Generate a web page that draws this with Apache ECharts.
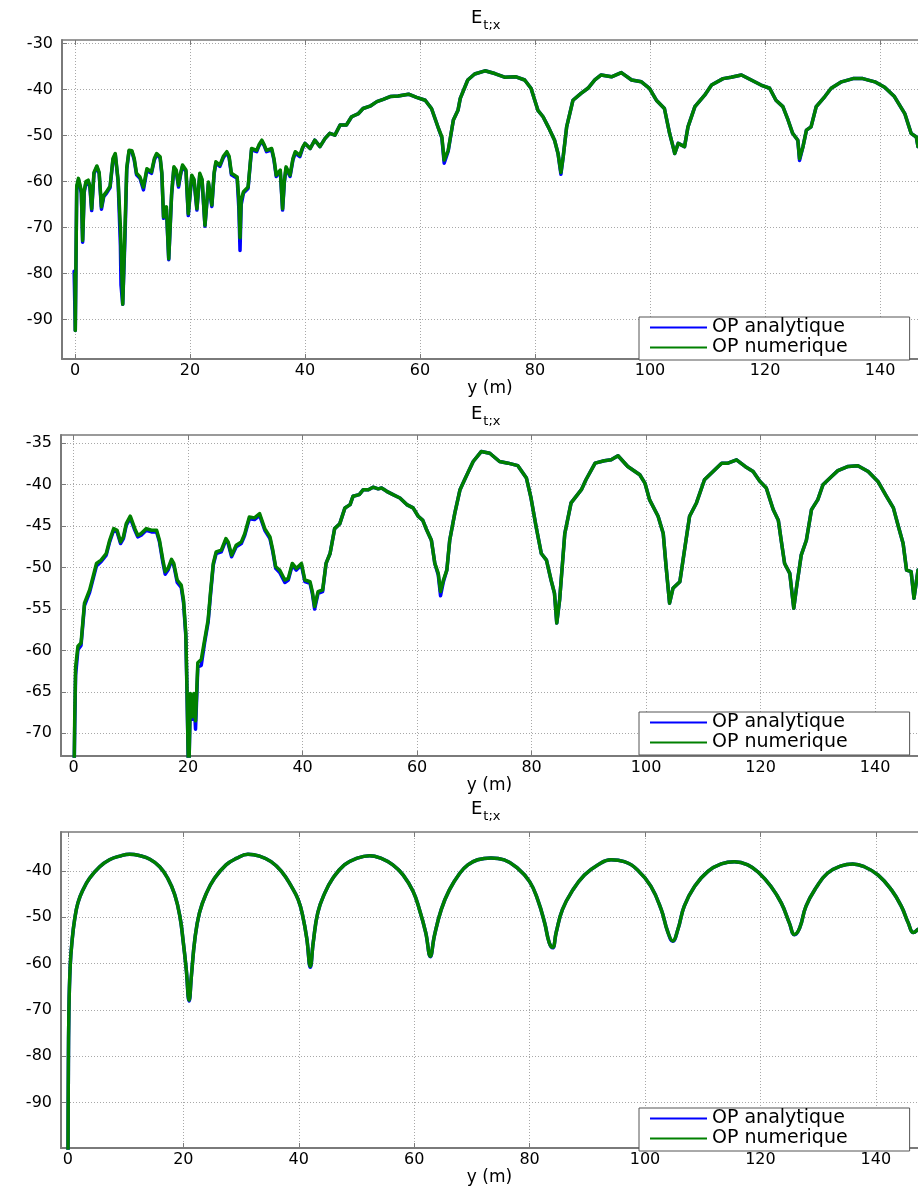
<!DOCTYPE html>
<html>
<head>
<meta charset="utf-8">
<script src="https://cdn.jsdelivr.net/npm/echarts@6/dist/echarts.min.js"></script>
<style>
html,body{margin:0;padding:0;background:#ffffff;}
#chart{width:918px;height:1187px;}
</style>
</head>
<body>
<div id="chart"></div>
<script>
// ---------------- data ----------------
const seriesNames = ['OP analytique', 'OP numerique'];
const titleText = 'E';
const titleSub = 't;x';
const xAxisName = 'y (m)';
const xTickLabels = [0, 20, 40, 60, 80, 100, 120, 140];
const yTickLabels1 = [-90, -80, -70, -60, -50, -40, -30];
const yTickLabels2 = [-70, -65, -60, -55, -50, -45, -40, -35];
const yTickLabels3 = [-90, -80, -70, -60, -50, -40];

// panel 1 : OP numerique
const p1Numerique = [[0,-80],[0.05,-92.4],[0.3,-61],[0.6,-59.3],[0.87,-59],[1.1,-62],[1.33,-72.8],[1.6,-62],[1.9,-60],[2.3,-59.7],[2.6,-61],[2.9,-65.9],[3.3,-58],[3.8,-56.6],[4.2,-58],[4.6,-65.5],[5.0,-63],[5.5,-62.2],[6.1,-61],[6.6,-55],[7.0,-53.9],[7.5,-59.7],[7.9,-70],[8.3,-86.7],[8.7,-70],[9.0,-57],[9.4,-53.2],[9.9,-53.3],[10.3,-55],[10.7,-58.2],[11.3,-59],[11.9,-61.2],[12.5,-57.2],[13.3,-57.9],[13.8,-55],[14.2,-53.9],[14.8,-54.6],[15.1,-58],[15.4,-67.7],[15.9,-65.5],[16.3,-76.8],[16.8,-62.6],[17.2,-56.8],[17.6,-57.5],[18.0,-60.8],[18.4,-58],[18.7,-56.4],[19.3,-57.5],[19.7,-67.0],[20.3,-58.6],[20.7,-59.5],[21.2,-65.9],[21.7,-58.2],[22.1,-59.5],[22.6,-69.5],[23.2,-60.1],[23.8,-65.1],[24.2,-58],[24.5,-55.7],[25.2,-56.4],[25.8,-54.5],[26.4,-53.5],[26.8,-54.5],[27.2,-58.2],[28.2,-59.0],[28.5,-64],[28.7,-72.2],[28.9,-64],[29.3,-62.2],[30.1,-61.2],[30.4,-57],[30.7,-52.8],[31.6,-53.2],[32.0,-52],[32.5,-51.0],[32.9,-52],[33.3,-53.2],[34.2,-52.8],[34.6,-55],[35.0,-58.6],[35.7,-57.5],[36.1,-65.9],[36.4,-60],[36.7,-56.8],[37.4,-58.6],[37.9,-55],[38.3,-53.5],[39.1,-54.3],[39.6,-52.5],[40.0,-51.7],[40.9,-52.8],[41.7,-51.0],[42.6,-52.4],[43.5,-50.6],[44.3,-49.5],[45.2,-49.9],[46.1,-47.7],[47.2,-47.7],[48.1,-45.9],[49.3,-45.2],[50.1,-44.1],[51.3,-43.6],[52.5,-42.6],[53.6,-42.1],[54.8,-41.5],[56.2,-41.4],[58.0,-41.0],[59.4,-41.7],[60.9,-42.3],[62.0,-44.1],[63.2,-48.4],[63.8,-50.3],[64.2,-55.3],[64.9,-53.2],[65.8,-46.6],[66.6,-44.5],[67.0,-41.9],[68.3,-37.9],[69.5,-36.6],[71.3,-35.9],[73.0,-36.5],[74.7,-37.3],[76.7,-37.2],[78.2,-37.9],[79.3,-39.7],[80.5,-44.5],[81.4,-45.9],[82.3,-48.1],[83.4,-51.0],[84.0,-53.9],[84.5,-58.0],[84.9,-54.6],[85.5,-48.1],[86.6,-42.3],[88.0,-40.8],[89.2,-39.7],[90.4,-37.9],[91.5,-36.8],[93.3,-37.2],[95.0,-36.3],[96.8,-37.9],[98.5,-38.3],[99.9,-39.7],[101.1,-42.3],[102.5,-44.1],[103.4,-49.5],[104.0,-52.4],[104.3,-53.9],[104.9,-51.7],[106.0,-52.4],[106.6,-48.1],[107.8,-43.7],[109.5,-41.2],[110.7,-39.0],[112.7,-37.6],[114.1,-37.3],[115.9,-36.8],[117.6,-37.9],[119.3,-39.0],[120.8,-39.7],[121.9,-42.3],[123.1,-43.7],[124.0,-46.6],[124.8,-49.5],[125.7,-51.0],[126.0,-55.0],[126.6,-52.4],[127.2,-48.8],[128.0,-48.1],[128.9,-43.7],[130.4,-41.5],[131.5,-39.7],[133.3,-38.3],[135.3,-37.6],[137.0,-37.6],[139.1,-38.3],[140.8,-39.5],[142.5,-41.5],[144.3,-45.2],[145.4,-49.5],[146.3,-50.3],[146.6,-52.4],[147.0,-52.5]];

// panel 1 : OP analytique
const p1Analytique = [[-0.15,-79.5],[-0.1,-82.5],[0.05,-92.4],[0.3,-61.5],[0.6,-59.6],[0.87,-59.2],[1.1,-62.5],[1.33,-73.2],[1.6,-62.4],[1.9,-60.3],[2.3,-60],[2.6,-61.4],[2.9,-66.3],[3.3,-58.3],[3.8,-56.8],[4.2,-58.3],[4.6,-66],[5.0,-63.3],[5.5,-62.5],[6.1,-61.3],[6.6,-55.3],[7.0,-54.1],[7.5,-60],[7.9,-74],[8.0,-82.5],[8.3,-86.7],[8.7,-72],[9.0,-57.4],[9.4,-53.4],[9.9,-53.5],[10.3,-55.3],[10.7,-58.5],[11.3,-59.3],[11.9,-61.8],[12.5,-57.6],[13.3,-58.2],[13.8,-55.3],[14.2,-54.1],[14.8,-54.9],[15.1,-58.4],[15.4,-68],[15.9,-66],[16.3,-77],[16.8,-63],[17.2,-57.1],[17.6,-57.8],[18.0,-61.2],[18.4,-58.3],[18.7,-56.7],[19.3,-57.8],[19.7,-67.4],[20.3,-58.9],[20.7,-59.8],[21.2,-66.2],[21.7,-58.5],[22.1,-59.8],[22.6,-69.7],[23.2,-60.4],[23.8,-65.4],[24.2,-58.3],[24.5,-56],[25.2,-56.7],[25.8,-54.8],[26.4,-53.7],[26.8,-54.8],[27.2,-58.5],[28.2,-59.3],[28.5,-66],[28.7,-75],[28.9,-65],[29.3,-62.5],[30.1,-61.5],[30.4,-57.3],[30.7,-53.1],[31.6,-53.5],[32.0,-52.2],[32.5,-51.2],[32.9,-52.2],[33.3,-53.5],[34.2,-53.1],[34.6,-55.3],[35.0,-58.9],[35.7,-57.8],[36.1,-66.2],[36.4,-60.3],[36.7,-57.1],[37.4,-58.9],[37.9,-55.3],[38.3,-53.8],[39.1,-54.6],[39.6,-52.7],[40.0,-51.7],[40.9,-52.8],[41.7,-51.0],[42.6,-52.4],[43.5,-50.6],[44.3,-49.5],[45.2,-49.9],[46.1,-47.7],[47.2,-47.7],[48.1,-45.9],[49.3,-45.2],[50.1,-44.1],[51.3,-43.6],[52.5,-42.6],[53.6,-42.1],[54.8,-41.5],[56.2,-41.4],[58.0,-41.0],[59.4,-41.7],[60.9,-42.3],[62.0,-44.1],[63.2,-48.4],[63.8,-50.5],[64.2,-56.0],[64.9,-53.4],[65.8,-46.6],[66.6,-44.5],[67.0,-41.9],[68.3,-37.9],[69.5,-36.6],[71.3,-35.9],[73.0,-36.5],[74.7,-37.3],[76.7,-37.2],[78.2,-37.9],[79.3,-39.7],[80.5,-44.5],[81.4,-45.9],[82.3,-48.1],[83.4,-51.0],[84.0,-53.9],[84.5,-58.4],[84.9,-54.6],[85.5,-48.1],[86.6,-42.3],[88.0,-40.8],[89.2,-39.7],[90.4,-37.9],[91.5,-36.8],[93.3,-37.2],[95.0,-36.3],[96.8,-37.9],[98.5,-38.3],[99.9,-39.7],[101.1,-42.3],[102.5,-44.1],[103.4,-49.5],[104.0,-52.4],[104.3,-53.9],[104.9,-51.7],[106.0,-52.4],[106.6,-48.1],[107.8,-43.7],[109.5,-41.2],[110.7,-39.0],[112.7,-37.6],[114.1,-37.3],[115.9,-36.8],[117.6,-37.9],[119.3,-39.0],[120.8,-39.7],[121.9,-42.3],[123.1,-43.7],[124.0,-46.6],[124.8,-49.5],[125.7,-51.0],[126.0,-55.4],[126.6,-52.4],[127.2,-48.8],[128.0,-48.1],[128.9,-43.7],[130.4,-41.5],[131.5,-39.7],[133.3,-38.3],[135.3,-37.6],[137.0,-37.6],[139.1,-38.3],[140.8,-39.5],[142.5,-41.5],[144.3,-45.2],[145.4,-49.5],[146.3,-50.3],[146.6,-52.4],[147.0,-52.5]];

// panel 2 : OP numerique
const p2Numerique = [[0,-80],[0.2,-68],[0.35,-62],[0.76,-59.5],[1.3,-59.1],[1.9,-54.3],[2.8,-52.7],[3.4,-51.1],[4.0,-49.5],[4.8,-49.1],[5.7,-48.3],[6.3,-46.7],[7.0,-45.3],[7.6,-45.5],[8.2,-46.9],[8.7,-46.3],[9.2,-44.7],[9.9,-43.8],[10.7,-45.3],[11.2,-46.1],[11.8,-45.9],[12.7,-45.3],[13.6,-45.5],[14.5,-45.5],[15.0,-46.7],[15.6,-49.1],[16.0,-50.5],[16.5,-50.1],[17.1,-49.0],[17.5,-49.5],[18.1,-51.5],[18.8,-52.1],[19.2,-53.9],[19.6,-57.9],[19.8,-64.4],[20.1,-76],[20.4,-65.2],[20.7,-68.0],[21.0,-65.2],[21.3,-68.5],[21.7,-61.5],[22.3,-61.1],[22.9,-58.7],[23.5,-56.3],[23.9,-53.1],[24.4,-49.5],[24.9,-48.1],[25.8,-47.9],[26.6,-46.5],[27.0,-46.9],[27.6,-48.5],[28.4,-47.3],[29.3,-46.9],[29.9,-45.9],[30.7,-43.9],[31.6,-44.0],[32.5,-43.5],[33.4,-45.3],[34.3,-46.3],[34.8,-47.9],[35.3,-49.9],[36.0,-50.3],[36.9,-51.5],[37.5,-51.3],[38.2,-49.5],[38.9,-50.1],[39.8,-49.5],[40.4,-51.5],[41.3,-51.7],[41.7,-52.9],[42.1,-54.7],[42.7,-52.9],[43.5,-52.7],[44.1,-49.5],[44.8,-48.3],[45.6,-45.3],[46.5,-44.7],[47.4,-42.8],[48.3,-42.4],[48.8,-41.4],[49.9,-41.2],[50.6,-40.6],[51.5,-40.6],[52.3,-40.3],[53.2,-40.5],[53.8,-40.4],[54.7,-40.8],[55.8,-41.2],[57.0,-41.6],[58.2,-42.4],[59.3,-42.8],[60.2,-43.8],[61.0,-44.3],[61.7,-45.5],[62.5,-46.7],[63.1,-49.5],[63.7,-50.7],[64.1,-52.9],[64.6,-51.5],[65.2,-50.3],[65.7,-46.7],[66.6,-43.4],[67.5,-40.6],[68.3,-39.4],[69.8,-37.2],[71.2,-36.0],[72.7,-36.2],[74.4,-37.2],[75.9,-37.4],[77.6,-37.7],[79.1,-39.2],[79.9,-41.6],[80.8,-45.1],[81.7,-48.3],[82.6,-49.1],[83.4,-51.5],[84.0,-53.1],[84.4,-56.7],[84.9,-53.9],[85.8,-45.9],[86.9,-42.2],[88.7,-40.6],[89.5,-39.4],[91.1,-37.4],[92.7,-37.1],[93.9,-37.0],[95.1,-36.5],[96.8,-37.8],[98.9,-38.8],[99.8,-39.8],[100.6,-41.8],[102.1,-43.8],[103.0,-45.9],[103.5,-49.9],[104.1,-54.3],[104.7,-52.5],[105.9,-51.7],[106.8,-47.5],[107.6,-43.8],[108.8,-42.2],[110.2,-39.4],[111.7,-38.4],[113.2,-37.4],[114.3,-37.4],[115.8,-37.0],[117.3,-37.8],[118.7,-38.4],[119.9,-39.6],[121.0,-40.4],[122.2,-43.0],[123.1,-44.3],[123.6,-46.7],[124.2,-49.5],[125.1,-50.7],[125.8,-54.9],[126.3,-52.3],[127.1,-48.5],[128.0,-46.7],[128.9,-43.0],[130.0,-41.8],[130.9,-40.0],[132.4,-39.0],[133.5,-38.3],[135.3,-37.8],[137.0,-37.7],[138.8,-38.4],[140.5,-39.6],[142.0,-41.4],[143.2,-42.8],[144.1,-45.1],[144.9,-47.1],[145.5,-50.3],[146.3,-50.5],[146.8,-53.7],[147.5,-50.3]];

// panel 2 : OP analytique
const p2Analytique = [[0,-80],[0.2,-69],[0.35,-63],[0.76,-59.9],[1.3,-59.4],[1.9,-54.6],[2.8,-53],[3.4,-51.4],[4.0,-49.8],[4.8,-49.3],[5.7,-48.5],[6.3,-46.9],[7.0,-45.5],[7.6,-45.7],[8.2,-47.1],[8.7,-46.5],[9.2,-44.9],[9.9,-44],[10.7,-45.5],[11.2,-46.3],[11.8,-46.1],[12.7,-45.5],[13.6,-45.7],[14.5,-45.7],[15.0,-46.9],[15.6,-49.4],[16.0,-50.8],[16.5,-50.3],[17.1,-49.2],[17.5,-49.7],[18.1,-51.8],[18.8,-52.4],[19.2,-54.2],[19.6,-58.2],[19.8,-64.8],[20.1,-76],[20.4,-65.5],[20.7,-68.3],[21.0,-65.6],[21.3,-69.5],[21.7,-62],[22.3,-61.8],[22.9,-59],[23.5,-56.6],[23.9,-53.4],[24.4,-49.7],[24.9,-48.3],[25.8,-48.1],[26.6,-46.7],[27.0,-47.1],[27.6,-48.7],[28.4,-47.5],[29.3,-47.1],[29.9,-46.1],[30.7,-44.1],[31.6,-44.2],[32.5,-43.7],[33.4,-45.5],[34.3,-46.5],[34.8,-48.1],[35.3,-50.1],[36.0,-50.6],[36.9,-51.8],[37.5,-51.5],[38.2,-49.7],[38.9,-50.3],[39.8,-49.7],[40.4,-51.7],[41.3,-51.9],[41.7,-53.1],[42.1,-55],[42.7,-53.1],[43.5,-52.9],[44.1,-49.5],[44.8,-48.3],[45.6,-45.3],[46.5,-44.7],[47.4,-42.8],[48.3,-42.4],[48.8,-41.4],[49.9,-41.2],[50.6,-40.6],[51.5,-40.6],[52.3,-40.3],[53.2,-40.5],[53.8,-40.4],[54.7,-40.8],[55.8,-41.2],[57.0,-41.6],[58.2,-42.4],[59.3,-42.8],[60.2,-43.8],[61.0,-44.3],[61.7,-45.5],[62.5,-46.7],[63.1,-49.5],[63.7,-50.9],[64.1,-53.4],[64.6,-51.7],[65.2,-50.3],[65.7,-46.7],[66.6,-43.4],[67.5,-40.6],[68.3,-39.4],[69.8,-37.2],[71.2,-36.0],[72.7,-36.2],[74.4,-37.2],[75.9,-37.4],[77.6,-37.7],[79.1,-39.2],[79.9,-41.6],[80.8,-45.1],[81.7,-48.3],[82.6,-49.1],[83.4,-51.5],[84.0,-53.1],[84.4,-56.7],[84.9,-53.9],[85.8,-45.9],[86.9,-42.2],[88.7,-40.6],[89.5,-39.4],[91.1,-37.4],[92.7,-37.1],[93.9,-37.0],[95.1,-36.5],[96.8,-37.8],[98.9,-38.8],[99.8,-39.8],[100.6,-41.8],[102.1,-43.8],[103.0,-45.9],[103.5,-49.9],[104.1,-54.3],[104.7,-52.5],[105.9,-51.7],[106.8,-47.5],[107.6,-43.8],[108.8,-42.2],[110.2,-39.4],[111.7,-38.4],[113.2,-37.4],[114.3,-37.4],[115.8,-37.0],[117.3,-37.8],[118.7,-38.4],[119.9,-39.6],[121.0,-40.4],[122.2,-43.0],[123.1,-44.3],[123.6,-46.7],[124.2,-49.5],[125.1,-50.7],[125.8,-54.9],[126.3,-52.3],[127.1,-48.5],[128.0,-46.7],[128.9,-43.0],[130.0,-41.8],[130.9,-40.0],[132.4,-39.0],[133.5,-38.3],[135.3,-37.8],[137.0,-37.7],[138.8,-38.4],[140.5,-39.6],[142.0,-41.4],[143.2,-42.8],[144.1,-45.1],[144.9,-47.1],[145.5,-50.3],[146.3,-50.5],[146.8,-53.7],[147.5,-50.3]];

// panel 3 : OP numerique
const p3Numerique = [[0,-106],[0.06,-86.8],[0.17,-70.4],[0.4,-60.4],[0.75,-54.7],[1.16,-50.5],[1.73,-46.9],[2.6,-44.1],[3.75,-41.6],[5.5,-39.1],[7.2,-37.6],[9.0,-36.8],[10.7,-36.4],[12.4,-36.7],[14.2,-37.5],[15.9,-39.1],[17.3,-41.6],[18.5,-45.1],[19.4,-49.8],[20.0,-55.5],[20.5,-61.2],[21.0,-67.9],[21.4,-62.6],[22.0,-54.7],[22.8,-49.0],[24.0,-44.8],[25.4,-41.6],[27.4,-38.7],[29.2,-37.3],[31.2,-36.4],[33.2,-36.8],[35.2,-38.0],[37.0,-40.1],[38.7,-43.3],[39.9,-46.2],[40.7,-49.8],[41.4,-54.7],[42.0,-60.6],[42.5,-55.5],[43.3,-49.0],[44.5,-44.8],[45.9,-41.6],[47.9,-38.7],[50.0,-37.3],[52.3,-36.7],[54.3,-37.3],[56.3,-38.7],[58.1,-40.9],[59.8,-44.4],[60.9,-48.3],[62.0,-53.3],[62.8,-58.4],[63.5,-54.0],[64.7,-48.3],[66.1,-44.1],[67.9,-40.5],[69.3,-38.7],[71.0,-37.6],[73.3,-37.2],[75.6,-37.6],[77.9,-39.4],[80.0,-42.3],[81.4,-46.2],[82.6,-51.2],[83.4,-55.5],[84.0,-56.5],[84.6,-53.3],[85.7,-48.3],[87.5,-44.1],[89.5,-40.9],[91.8,-38.7],[94.1,-37.6],[96.4,-38.0],[98.7,-39.8],[101.0,-43.3],[102.8,-48.3],[103.9,-53.0],[104.8,-55.1],[105.7,-52.6],[106.8,-47.6],[108.6,-43.3],[110.9,-40.1],[113.2,-38.5],[115.5,-38.0],[117.8,-38.7],[119.8,-40.5],[121.8,-43.3],[123.6,-46.9],[125.0,-51.2],[125.9,-53.7],[126.8,-52.3],[127.9,-47.6],[129.7,-43.5],[131.6,-40.5],[134.0,-38.9],[136.0,-38.5],[138.0,-39.1],[140.4,-40.9],[142.7,-44.1],[144.4,-47.6],[145.6,-51.2],[146.5,-53.3],[147.3,-52.6]];
// panel 3 : OP analytique (coincides with the numerical curve)
const p3Analytique = [[0,-106],[0.06,-86.8],[0.17,-70.4],[0.4,-60.4],[0.75,-54.7],[1.16,-50.5],[1.73,-46.9],[2.6,-44.1],[3.75,-41.6],[5.5,-39.1],[7.2,-37.6],[9.0,-36.8],[10.7,-36.4],[12.4,-36.7],[14.2,-37.5],[15.9,-39.1],[17.3,-41.6],[18.5,-45.1],[19.4,-49.8],[20.0,-55.5],[20.5,-61.2],[21.0,-68.1],[21.4,-62.6],[22.0,-54.7],[22.8,-49.0],[24.0,-44.8],[25.4,-41.6],[27.4,-38.7],[29.2,-37.3],[31.2,-36.4],[33.2,-36.8],[35.2,-38.0],[37.0,-40.1],[38.7,-43.3],[39.9,-46.2],[40.7,-49.8],[41.4,-54.7],[42.0,-60.8],[42.5,-55.5],[43.3,-49.0],[44.5,-44.8],[45.9,-41.6],[47.9,-38.7],[50.0,-37.3],[52.3,-36.7],[54.3,-37.3],[56.3,-38.7],[58.1,-40.9],[59.8,-44.4],[60.9,-48.3],[62.0,-53.3],[62.8,-58.5],[63.5,-54.0],[64.7,-48.3],[66.1,-44.1],[67.9,-40.5],[69.3,-38.7],[71.0,-37.6],[73.3,-37.2],[75.6,-37.6],[77.9,-39.4],[80.0,-42.3],[81.4,-46.2],[82.6,-51.2],[83.4,-55.5],[84.0,-56.6],[84.6,-53.3],[85.7,-48.3],[87.5,-44.1],[89.5,-40.9],[91.8,-38.7],[94.1,-37.6],[96.4,-38.0],[98.7,-39.8],[101.0,-43.3],[102.8,-48.3],[103.9,-53.0],[104.8,-55.2],[105.7,-52.6],[106.8,-47.6],[108.6,-43.3],[110.9,-40.1],[113.2,-38.5],[115.5,-38.0],[117.8,-38.7],[119.8,-40.5],[121.8,-43.3],[123.6,-46.9],[125.0,-51.2],[125.9,-53.8],[126.8,-52.3],[127.9,-47.6],[129.7,-43.5],[131.6,-40.5],[134.0,-38.9],[136.0,-38.5],[138.0,-39.1],[140.4,-40.9],[142.7,-44.1],[144.4,-47.6],[145.6,-51.2],[146.5,-53.3],[147.3,-52.6]];

// ---------------- layout / style ----------------
const FONT = 'DejaVu Sans';
const BLUE = '#0000ff';
const GREEN = '#008000';
const AXIS_COLOR = '#7a7a7a';
const GRID_COLOR = '#a8a8a8';

const panels = [
  { grid: { left: 62, top: 40, width: 856, height: 319 }, xr: [-2.26, 146.6], yr: [-98.6, -29.2], yTicks: yTickLabels1, titleTop: 9,   legendTop: 317,  data: [p1Analytique, p1Numerique], smooth: false },
  { grid: { left: 61, top: 435, width: 857, height: 321 }, xr: [-2.2, 147.5], yr: [-72.74, -34.0], yTicks: yTickLabels2, titleTop: 405, legendTop: 712,  data: [p2Analytique, p2Numerique], smooth: false },
  { grid: { left: 61, top: 832, width: 857, height: 319 }, xr: [-1.2, 147.3], yr: [-99.8, -31.6], yTicks: yTickLabels3, titleTop: 800, legendTop: 1108, data: [p3Analytique, p3Numerique], smooth: 0.45 }
];

const option = {
  animation: false,
  backgroundColor: '#ffffff',
  title: [], legend: [], grid: [], xAxis: [], yAxis: [], series: []
};

panels.forEach(function (p, i) {
  option.grid.push(Object.assign({ containLabel: false }, p.grid));
  option.title.push({
    text: '{e|' + titleText + '}{s|' + titleSub + '}',
    left: 471, top: p.titleTop, padding: 0,
    textStyle: {
      fontWeight: 'normal',
      rich: {
        e: { fontFamily: FONT, fontSize: 18, fontWeight: 'normal', color: '#000', lineHeight: 18, verticalAlign: 'top' },
        s: { fontFamily: FONT, fontSize: 13, fontWeight: 'normal', color: '#000', lineHeight: 14, verticalAlign: 'top', padding: [10, 0, 0, 1] }
      }
    }
  });
  option.legend.push({
    data: seriesNames,
    orient: 'vertical',
    left: 639, top: p.legendTop,
    padding: [1, 62, 3, 11],
    itemGap: 1,
    itemWidth: 57, itemHeight: 2,
    icon: 'rect',
    backgroundColor: '#ffffff',
    borderColor: '#555555', borderWidth: 1,
    selectedMode: false,
    textStyle: { fontFamily: FONT, fontSize: 19, color: '#000', lineHeight: 18 }
  });
  // bottom x axis
  option.xAxis.push({
    type: 'value', gridIndex: i, position: 'bottom',
    min: p.xr[0], max: p.xr[1],
    name: xAxisName, nameLocation: 'middle', nameGap: 21,
    nameTextStyle: { fontFamily: FONT, fontSize: 17, color: '#000' },
    axisLine: { show: true, onZero: false, lineStyle: { color: AXIS_COLOR, width: 2 } },
    axisTick: { show: true, inside: true, length: 5, customValues: xTickLabels, lineStyle: { color: AXIS_COLOR } },
    axisLabel: { show: true, customValues: xTickLabels, margin: 4, fontFamily: FONT, fontSize: 16, color: '#000' },
    splitLine: { show: true, lineStyle: { color: GRID_COLOR, width: 1, type: [1, 2] } }
  });
  // top x axis (box)
  option.xAxis.push({
    type: 'value', gridIndex: i, position: 'top',
    min: p.xr[0], max: p.xr[1],
    axisLine: { show: true, onZero: false, lineStyle: { color: AXIS_COLOR, width: 1.5 } },
    axisTick: { show: true, inside: true, length: 5, customValues: xTickLabels, lineStyle: { color: AXIS_COLOR } },
    axisLabel: { show: false },
    splitLine: { show: false }
  });
  option.yAxis.push({
    type: 'value', gridIndex: i,
    min: p.yr[0], max: p.yr[1],
    axisLine: { show: true, onZero: false, lineStyle: { color: AXIS_COLOR, width: 2 } },
    axisTick: { show: true, inside: true, length: 5, customValues: p.yTicks, lineStyle: { color: AXIS_COLOR } },
    axisLabel: { show: true, customValues: p.yTicks, margin: 9, fontFamily: FONT, fontSize: 16, color: '#000' },
    splitLine: { show: true, lineStyle: { color: GRID_COLOR, width: 1, type: [1, 2] } }
  });
  const colors = [BLUE, GREEN];
  [0, 1].forEach(function (k) {
    const s = {
      name: seriesNames[k],
      type: 'line',
      xAxisIndex: i * 2,
      yAxisIndex: i,
      data: p.data[k],
      showSymbol: false,
      symbol: 'none',
      smooth: p.smooth,
      clip: true,
      color: colors[k],
      lineStyle: { color: colors[k], width: 3.5, join: 'round', cap: 'round' },
      z: 2 + k
    };
    option.series.push(s);
  });
});

const chart = echarts.init(document.getElementById('chart'), null, { renderer: 'canvas' });
chart.setOption(option);
</script>
</body>
</html>
